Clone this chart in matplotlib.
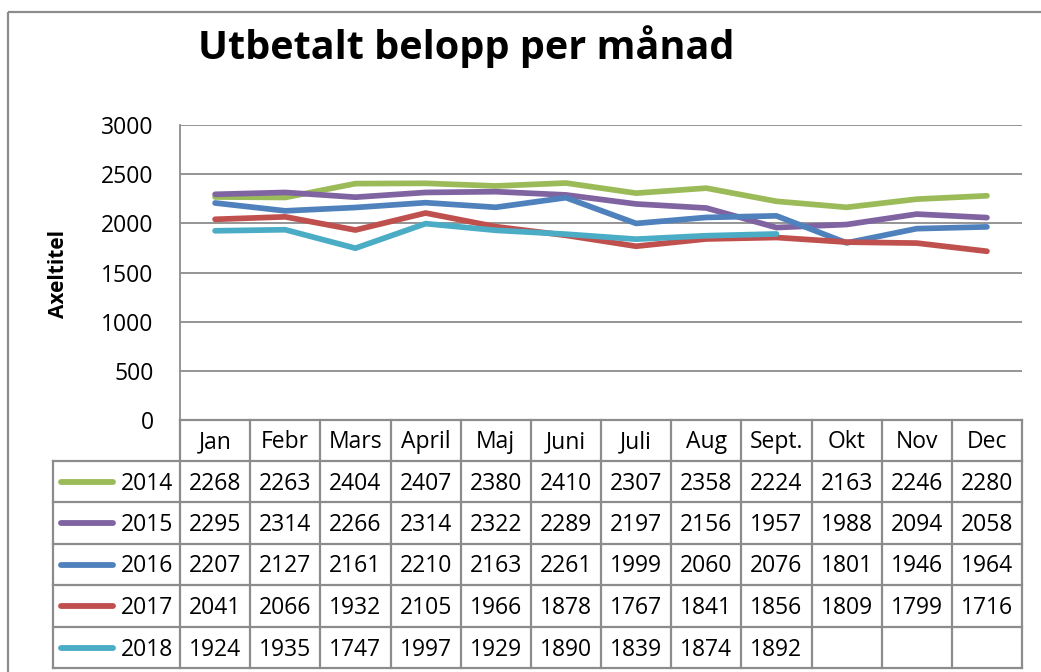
import matplotlib
matplotlib.use("Agg")
import matplotlib.pyplot as plt
from matplotlib.lines import Line2D
from matplotlib.patches import Rectangle

months = ["Jan", "Febr", "Mars", "April", "Maj", "Juni", "Juli", "Aug", "Sept.", "Okt", "Nov", "Dec"]
years = ["2014", "2015", "2016", "2017", "2018"]
v2014 = [2268, 2263, 2404, 2407, 2380, 2410, 2307, 2358, 2224, 2163, 2246, 2280]
v2015 = [2295, 2314, 2266, 2314, 2322, 2289, 2197, 2156, 1957, 1988, 2094, 2058]
v2016 = [2207, 2127, 2161, 2210, 2163, 2261, 1999, 2060, 2076, 1801, 1946, 1964]
v2017 = [2041, 2066, 1932, 2105, 1966, 1878, 1767, 1841, 1856, 1809, 1799, 1716]
v2018 = [1924, 1935, 1747, 1997, 1929, 1890, 1839, 1874, 1892]
series = [v2014, v2015, v2016, v2017, v2018]
colors = ["#9BBB59", "#8064A2", "#4F81BD", "#C0504D", "#4BACC6"]
yticks = [0, 500, 1000, 1500, 2000, 2500, 3000]

W, H = 1041, 672
plt.rcParams['font.family'] = ['Open Sans', 'DejaVu Sans']
fig = plt.figure(figsize=(W / 100, H / 100), dpi=100)

# pixel layout
L, R, T, B = 180, 1022, 125, 420
grid_c = "#8C8C8C"
fs = 16.5

ax = fig.add_axes([L / W, 1 - B / H, (R - L) / W, (B - T) / H])
for vals, c in zip(series, colors):
    ax.plot(range(len(vals)), vals, color=c, lw=4.1, solid_capstyle='round', zorder=3)
ax.set_xlim(-0.5, 11.5)
ax.set_ylim(0, 3000)
ax.set_yticks(yticks)
ax.set_yticklabels([str(t) for t in yticks], fontsize=fs)
ax.tick_params(axis='y', length=0, pad=19)
ax.set_xticks([])
ax.yaxis.grid(True, color=grid_c, lw=1.3)
ax.set_axisbelow(True)
for s in ["top", "right", "bottom"]:
    ax.spines[s].set_visible(False)
ax.spines["left"].set_color(grid_c)
ax.spines["left"].set_linewidth(1.3)

# overlay in pixel coords
ov = fig.add_axes([0, 0, 1, 1])
ov.set_xlim(0, W)
ov.set_ylim(H, 0)
ov.axis('off')

# outer border
ov.add_patch(Rectangle((8, 12), 1100, 700, fill=False, ec="#8C8C8C", lw=1.6))

fig.text(466 / W, 1 - 47 / H, "Utbetalt belopp per månad", fontsize=28.5, fontweight='bold',
         ha='center', va='center')
fig.text(58 / W, 1 - 274 / H, "Axeltitel", fontsize=15, fontweight='bold',
         ha='center', va='center', rotation=90)

# table
col_w = (R - L) / 12
rows_y = [420, 461, 502, 544, 585, 627, 668]
lc = "#8C8C8C"
lw = 1.6
leg_left = 53
for i in range(13):
    x = L + i * col_w
    ov.add_line(Line2D([x, x], [rows_y[0], rows_y[-1]], color=lc, lw=lw))
ov.add_line(Line2D([leg_left, leg_left], [rows_y[1], rows_y[-1]], color=lc, lw=lw))
ov.add_line(Line2D([L, R], [rows_y[0], rows_y[0]], color=lc, lw=lw))
for y in rows_y[1:]:
    ov.add_line(Line2D([leg_left, R], [y, y], color=lc, lw=lw))

for i, m in enumerate(months):
    ov.text(L + (i + 0.5) * col_w, (rows_y[0] + rows_y[1]) / 2 + 2, m, fontsize=fs,
            ha='center', va='center')
for r, (yr, vals, c) in enumerate(zip(years, series, colors)):
    yc = (rows_y[r + 1] + rows_y[r + 2]) / 2 + 2
    ov.add_line(Line2D([61, 113], [yc - 2, yc - 2], color=c, lw=4.2, solid_capstyle='round'))
    ov.text(173, yc, yr, fontsize=fs, ha='right', va='center')
    for i, v in enumerate(vals):
        ov.text(L + (i + 0.5) * col_w, yc, str(v), fontsize=fs, ha='center', va='center')

fig.savefig("out.png", dpi=100)
